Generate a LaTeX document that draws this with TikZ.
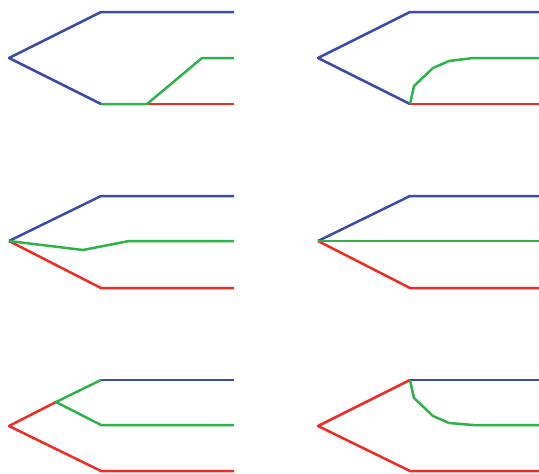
\documentclass[tikz,border=0pt]{standalone}
\definecolor{cblue}{HTML}{3A4DA6}
\definecolor{cred}{HTML}{EE2B24}
\definecolor{cgreen}{HTML}{2DB34A}
\tikzset{ln/.style={line width=2.5pt,line join=round,line cap=butt},
 bl/.style={ln,draw=cblue}, rd/.style={ln,draw=cred}, gr/.style={ln,draw=cgreen}}
\begin{document}
\begin{tikzpicture}[x=1pt,y=-1pt]
\useasboundingbox (0,0) rectangle (539,474);
% Panel 1
\coordinate (a1) at (9,58); \coordinate (t1) at (101,12); \coordinate (b1) at (101,104);
\coordinate (s1) at (147,104); \coordinate (k1) at (202,58);
\coordinate (te1) at (234,12); \coordinate (ge1) at (234,58); \coordinate (re1) at (234,104);
\draw[bl] (te1) -- (t1) -- (a1) -- (b1);
\draw[rd] (s1) -- (re1);
\draw[gr] (b1) -- (s1) -- (k1) -- (ge1);
% Panel 2
\coordinate (a2) at (318,58); \coordinate (t2) at (410,12); \coordinate (b2) at (410,104);
\coordinate (te2) at (539,12); \coordinate (ge2) at (539,58); \coordinate (re2) at (539,104);
\draw[bl] (te2) -- (t2) -- (a2) -- (b2);
\draw[rd] (b2) -- (re2);
\draw[gr] (b2) -- (414,86) -- (433,68) -- (449,61) -- (473,58) -- (ge2);
% Panel 3
\coordinate (a3) at (9,241); \coordinate (t3) at (101,196); \coordinate (b3) at (101,288);
\coordinate (te3) at (234,196); \coordinate (ge3) at (234,241); \coordinate (re3) at (234,288);
\draw[bl] (te3) -- (t3) -- (a3);
\draw[rd] (a3) -- (b3) -- (re3);
\draw[gr] (a3) -- (83,250) -- (129,241) -- (ge3);
% Panel 4
\coordinate (a4) at (318,241); \coordinate (t4) at (410,196); \coordinate (b4) at (410,288);
\coordinate (te4) at (539,196); \coordinate (ge4) at (539,241); \coordinate (re4) at (539,288);
\draw[bl] (te4) -- (t4) -- (a4);
\draw[rd] (a4) -- (b4) -- (re4);
\draw[gr] (a4) -- (ge4);
% Panel 5
\coordinate (a5) at (9,426); \coordinate (t5) at (101,380); \coordinate (b5) at (101,471);
\coordinate (s5) at (56,402);
\coordinate (te5) at (234,380); \coordinate (ge5) at (234,425); \coordinate (re5) at (234,471);
\draw[bl] (t5) -- (te5);
\draw[rd] (s5) -- (a5) -- (b5) -- (re5);
\draw[gr] (t5) -- (s5) -- (101,425) -- (ge5);
% Panel 6
\coordinate (a6) at (318,426); \coordinate (t6) at (410,380); \coordinate (b6) at (410,471);
\coordinate (te6) at (539,380); \coordinate (ge6) at (539,425); \coordinate (re6) at (539,471);
\draw[bl] (t6) -- (te6);
\draw[rd] (t6) -- (a6) -- (b6) -- (re6);
\draw[gr] (t6) -- (414,398) -- (433,416) -- (449,423) -- (473,425) -- (ge6);
\end{tikzpicture}
\end{document}
